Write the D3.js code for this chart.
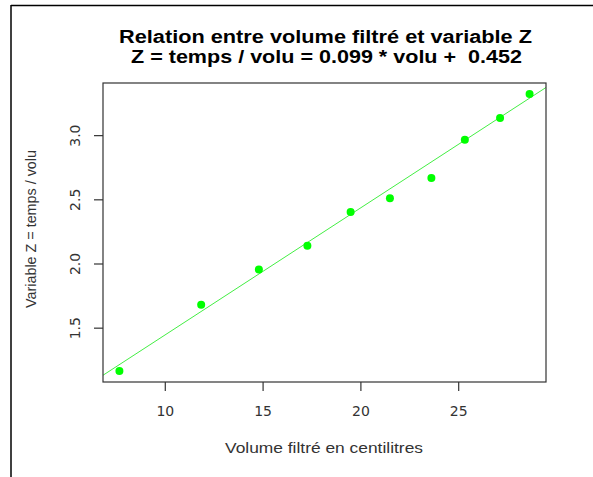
<!DOCTYPE html>
<html>
<head>
<meta charset="utf-8">
<script src="https://cdn.jsdelivr.net/npm/d3@7"></script>
<style>
  body { margin: 0; background: #fff; }
  svg text { font-family: "Liberation Sans", Arial, sans-serif; }
</style>
</head>
<body>
<svg id="chart" width="593" height="477"></svg>
<script>
// volume filtré (cl) and Z = temps / volu
const volume = [7.68, 11.86, 14.81, 17.29, 19.50, 21.51, 23.63, 25.34, 27.14, 28.65];
const varZ   = [1.163, 1.679, 1.954, 2.138, 2.402, 2.509, 2.666, 2.965, 3.133, 3.32];
const fitSlope = 0.099;
const fitIntercept = 0.452;
const xTicks = [10, 15, 20, 25];
const yTicks = [1.5, 2.0, 2.5, 3.0];
const titleLines = ["Relation entre volume filtré et variable Z", "Z = temps / volu = 0.099 * volu +  0.452"];

const svg = d3.select("#chart");
const margin = { top: 83, right: 47, bottom: 95, left: 103 };
const W = 593, H = 477;
const tickFont = "'DejaVu Sans', 'Liberation Sans', Arial, sans-serif";

// R style domain padding (4%)
function padExtent(vals) {
    const [lo, hi] = d3.extent(vals);
    const p = (hi - lo) * 0.04;
    return [lo - p, hi + p];
}

const x = d3.scaleLinear().domain(padExtent(volume)).range([margin.left, W - margin.right]);
const y = d3.scaleLinear().domain(padExtent(varZ)).range([H - margin.bottom, margin.top]);

// outer frame (only top and left visible)
svg.append("line").attr("x1", 11).attr("x2", 593).attr("y1", 5.5).attr("y2", 5.5)
    .attr("stroke", "#000").attr("stroke-width", 1.5);
svg.append("line").attr("x1", 11).attr("x2", 11).attr("y1", 5).attr("y2", 477)
    .attr("stroke", "#000").attr("stroke-width", 1.5);

// clip for regression line
svg.append("clipPath").attr("id", "plotClip").append("rect")
    .attr("x", margin.left).attr("y", margin.top)
    .attr("width", W - margin.left - margin.right)
    .attr("height", H - margin.top - margin.bottom);

const xd = x.domain();
svg.append("line")
    .attr("clip-path", "url(#plotClip)")
    .attr("x1", x(xd[0])).attr("y1", y(fitSlope * xd[0] + fitIntercept))
    .attr("x2", x(xd[1])).attr("y2", y(fitSlope * xd[1] + fitIntercept))
    .attr("stroke", "#44ee44").attr("stroke-width", 1);

svg.append("g").selectAll("circle")
    .data(d3.zip(volume, varZ))
    .join("circle")
    .attr("cx", d => x(d[0]))
    .attr("cy", d => y(d[1]))
    .attr("r", 4)
    .attr("fill", "#00ff00");

// box
svg.append("rect")
    .attr("x", margin.left).attr("y", margin.top)
    .attr("width", W - margin.left - margin.right)
    .attr("height", H - margin.top - margin.bottom)
    .attr("fill", "none").attr("stroke", "#333").attr("stroke-width", 1.2);

// axes
const xAxis = svg.append("g")
    .attr("transform", `translate(0,${H - margin.bottom})`)
    .call(d3.axisBottom(x).tickValues(xTicks).tickSize(9).tickPadding(15).tickFormat(d3.format("d")));
const yAxis = svg.append("g")
    .attr("transform", `translate(${margin.left},0)`)
    .call(d3.axisLeft(y).tickValues(yTicks).tickSize(9).tickFormat(d3.format(".1f")));

[xAxis, yAxis].forEach(a => {
    a.select(".domain").remove();
    a.selectAll(".tick line").attr("stroke", "#333").attr("stroke-width", 1.2);
    a.selectAll("text").attr("fill", "#333").style("font-size", "14px")
        .style("font-family", tickFont);
});
yAxis.selectAll(".tick text")
    .attr("x", null).attr("dy", null)
    .attr("text-anchor", "middle")
    .attr("transform", "translate(-23,0) rotate(-90)");

// axis titles
svg.append("text")
    .attr("x", 324).attr("y", 453)
    .attr("text-anchor", "middle").attr("fill", "#333")
    .style("font-size", "14.5px")
    .attr("textLength", 198).attr("lengthAdjust", "spacingAndGlyphs")
    .text("Volume filtré en centilitres");

svg.append("text")
    .attr("transform", "translate(36,229) rotate(-90)")
    .attr("text-anchor", "middle").attr("fill", "#333")
    .style("font-size", "14.5px")
    .attr("textLength", 158).attr("lengthAdjust", "spacingAndGlyphs")
    .text("Variable Z = temps / volu");

// title
const titleWidths = [413, 391];
svg.append("g").selectAll("text")
    .data(titleLines)
    .join("text")
    .attr("x", (d, i) => i === 0 ? 325.5 : 326.5)
    .attr("y", (d, i) => 42.7 + i * 20)
    .attr("text-anchor", "middle")
    .style("font-size", "17.5px")
    .style("font-weight", "bold")
    .style("white-space", "pre")
    .attr("xml:space", "preserve")
    .attr("textLength", (d, i) => titleWidths[i])
    .attr("lengthAdjust", "spacingAndGlyphs")
    .text(d => d);
</script>
</body>
</html>
